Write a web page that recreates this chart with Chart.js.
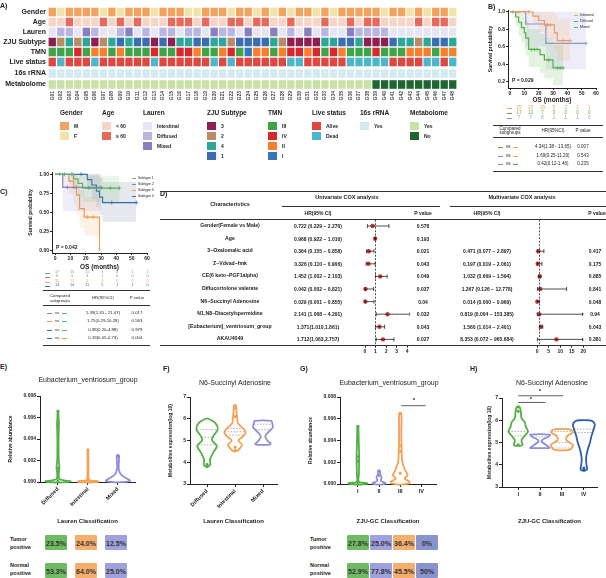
<!DOCTYPE html>
<html>
<head>
<meta charset="utf-8">
<script src="https://cdn.jsdelivr.net/npm/chart.js@4.4.1/dist/chart.umd.min.js"></script>
<style>
body { margin: 0; background: #fff; }
#page { position: relative; width: 606px; height: 578px; overflow: hidden; font-family: Arial, "Liberation Sans", sans-serif; color: #222; }
canvas { position: absolute; }
.t { position: absolute; white-space: nowrap; font-weight: bold; line-height: 1; }
.hl { position: absolute; height: 0; border-top: 1px solid #333; }
.sw { position: absolute; }
</style>
</head>
<body>
<div id="page"></div>
<script>
// ---------- heatmap (panel A) ----------
const samples = ["G01","G02","G03","G04","G05","G06","G07","G08","G09","G10","G11","G12","G13","G14","G15","G16",
  "G17","G18","G19","G20","G21","G22","G23","G24","G25","G26","G27","G28","G29","G30","G31","G32",
  "G33","G34","G35","G36","G37","G38","G39","G40","G41","G42","G43","G44","G45","G46","G47","G48"];
const gender = "M F M M M M F M F M M M F M M M F F M M M F M M F M F M F M M F M F M M M M M F M M F M F M M F".split(" ");
const age = "Y Y O Y Y Y O Y O Y O Y Y Y O O O Y O Y Y O O Y O O Y Y O Y Y Y O Y Y O Y O O Y Y Y Y O Y O O Y".split(" ");
const lauren = "I D D I M D I I D M I D I D D I D D I M D D I M I I M I D I M I D I I M D D D D I I I I I I I I".split(" ");
const zju = "3 2 4 2 4 3 2 4 1 4 1 1 3 1 3 4 4 1 1 4 4 2 1 1 1 1 4 2 3 3 3 3 4 4 1 1 4 3 3 3 1 4 4 2 4 1 1 4".split(" ");
const tmn = "III III III IV III II II III II III III III IV III III IV IV II III III II IV III I II II III II IV IV II IV III IV II III III III IV III III III II II II III II II".split(" ");
const live = "A D A A A D A A A A A A D A A A A A A D A D A A A A A A D D A A A A A D D D D D A A A A D D A D".split(" ");
const rrna = "Y Y Y Y Y Y Y Y Y Y Y Y Y Y Y Y Y Y Y Y Y Y Y Y Y Y Y Y Y Y Y Y Y Y Y Y Y Y Y Y Y Y Y Y Y Y Y Y".split(" ");
const metab = "Y Y Y Y Y Y Y Y Y Y Y Y Y Y Y Y Y Y Y Y Y Y Y Y Y Y Y Y Y Y Y Y Y Y Y Y Y Y N N N N N N N N N N".split(" ");
const rowNames = ["Gender", "Age", "Lauren", "ZJU Subtype", "TMN", "Live status", "16s rRNA", "Metabolome"];

// ---------- Kaplan-Meier (panel B, Lauren) ----------
const bIntT = [0, 16, 20, 24, 31, 33, 42];
const bIntS = [1, 0.95, 0.9, 0.85, 0.76, 0.67, 0.67];
const bIntLo = [1, 0.86, 0.77, 0.69, 0.56, 0.44, 0.44];
const bIntHi = [1, 1, 1, 1, 0.98, 0.92, 0.92];
const bIntCT = [6, 10, 13, 26, 28, 37, 42];
const bIntCS = [1, 1, 1, 0.85, 0.85, 0.67, 0.67];
const bDifT = [0, 4, 6, 8, 10, 11, 13, 21, 24, 30, 37];
const bDifS = [1, 0.94, 0.88, 0.82, 0.76, 0.70, 0.57, 0.51, 0.45, 0.36, 0.36];
const bDifLo = [1, 0.83, 0.72, 0.65, 0.57, 0.5, 0.37, 0.3, 0.24, 0.16, 0.16];
const bDifHi = [1, 1, 1, 0.98, 0.95, 0.9, 0.8, 0.75, 0.7, 0.62, 0.62];
const bDifCT = [15, 17, 19, 27, 33, 35, 37];
const bDifCS = [0.57, 0.57, 0.57, 0.45, 0.36, 0.36, 0.36];
const bMixT = [0, 11, 25, 53];
const bMixS = [1, 0.86, 0.64, 0.64];
const bMixLo = [1, 0.6, 0.34, 0.34];
const bMixHi = [1, 1, 1, 1];
const bMixCT = [2, 53];
const bMixCS = [1, 0.64];
const bRisk = [[25, 23, 19, 5, 2, 1, 1], [17, 13, 7, 3, 0, 0, 0], [7, 7, 6, 1, 1, 1, 0]];
const bHR = [["4.34(1.38 - 13.65)", "0.007"], ["1.69(0.25-11.29)", "0.543"], ["0.42(0.12-1.46)", "0.235"]];

// ---------- Kaplan-Meier (panel C, ZJU subtype) ----------
const c1T = [0, 12, 15, 18, 42], c1S = [1, 0.94, 0.88, 0.82, 0.82], c1Lo = [1, 0.83, 0.72, 0.64, 0.64], c1Hi = [1, 1, 1, 0.98, 0.98];
const c1CT = [3, 22, 30, 36, 42], c1CS = [1, 0.82, 0.82, 0.82, 0.82];
const c2T = [0, 5, 30], c2S = [1, 0.83, 0.83], c2Lo = [1, 0.52, 0.52], c2Hi = [1, 1, 1];
const c2CT = [8, 14, 30], c2CS = [0.83, 0.83, 0.83];
const c3T = [0, 9, 12, 14, 16, 19, 29], c3S = [1, 0.91, 0.82, 0.73, 0.55, 0.44, 0];
const c3Lo = [1, 0.74, 0.6, 0.48, 0.3, 0.2, 0], c3Hi = [1, 1, 1, 0.95, 0.8, 0.7, 0];
const c3CT = [21, 25], c3CS = [0.44, 0.44];
const c4T = [0, 21, 24, 27, 29, 31, 53], c4S = [1, 0.93, 0.86, 0.78, 0.70, 0.63, 0.63];
const c4Lo = [1, 0.8, 0.68, 0.57, 0.47, 0.38, 0.38], c4Hi = [1, 1, 1, 1, 0.95, 0.9, 0.9];
const c4CT = [6, 11, 17, 37, 53], c4CS = [1, 1, 1, 0.63, 0.63];
const cRisk = [[17, 15, 11, 3, 2, 1, 1], [6, 5, 4, 1, 0, 0, 0], [11, 11, 5, 0, 0, 0, 0], [14, 14, 11, 5, 1, 1, 0]];
const cHR = [["5.39(1.35 - 21.47)", "0.017"], ["1.75(0.29-10.28)", "0.563"], ["0.98(0.20-4.88)", "0.979"], ["0.19(0.05-0.73)", "0.004"]];

// ---------- Cox forest (panel D) ----------
const dNames = ["Gender(Female vs Male)", "Age", "3\u2212Oxalomalic acid", "Z\u2212Vdvad\u2212fmk", "CE(6 keto\u2212PGF1alpha)",
  "Diflucortolone valerate", "N6\u2212Succinyl Adenosine", "N1,N8\u2212Diacetylspermidine", "[Eubacterium]_ventriosum_group", "AKAU4049"];
const uniHR = [0.722, 0.968, 0.364, 0.326, 1.452, 0.042, 0.029, 2.141, 1.371, 1.712];
const uniLo = [0.229, 0.922, 0.155, 0.110, 1.002, 0.002, 0.001, 1.068, 1.010, 1.063];
const uniHi = [2.276, 1.016, 0.858, 0.966, 2.103, 0.821, 0.855, 4.291, 1.861, 2.757];
const uniCI = ["0.722 (0.229 \u2212 2.276)", "0.968 (0.922 \u2212 1.016)", "0.364 (0.155 \u2212 0.858)", "0.326 (0.110 \u2212 0.966)",
  "1.452 (1.002 \u2212 2.103)", "0.042 (0.002 \u2212 0.821)", "0.029 (0.001 \u2212 0.855)", "2.141 (1.068 \u2212 4.291)",
  "1.371(1.010,1.861)", "1.712(1.063,2.757)"];
const uniP = ["0.578", "0.193", "0.021", "0.043", "0.049", "0.037", "0.04", "0.032", "0.043", "0.027"];
const mulHR = [null, null, 0.471, 0.197, 1.032, 1.267, 0.014, 0.819, 1.560, 8.353];
const mulLo = [null, null, 0.077, 0.019, 0.669, 0.126, 0.000, 0.004, 1.014, 0.072];
const mulHi = [null, null, 2.897, 2.061, 1.594, 12.778, 0.969, 153.385, 2.401, 965.684];
const mulCI = ["", "", "0.471 (0.077 \u2212 2.897)", "0.197 (0.019 \u2212 2.061)", "1.032 (0.669 \u2212 1.594)",
  "1.267 (0.126 \u2212 12.778)", "0.014 (0.000 \u2212 0.969)", "0.819 (0.004 \u2212 153.385)", "1.560 (1.014 \u2212 2.401)",
  "8.353 (0.072 \u2212 965.684)"];
const mulP = ["", "", "0.417", "0.175", "0.885", "0.841", "0.048", "0.94", "0.043", "0.381"];

// ---------- violins (panels E-H) ----------
const laurenCats = ["Diffused", "Intestinal", "Mixed"];
const zjuCats = ["I", "II", "III", "IV"];
const eDifY = [-0.00005, 0.00002, 0.00008, 0.00015, 0.0003, 0.001, 0.0013, 0.002, 0.004, 0.0054, 0.006, 0.0066];
const eDifW = [0.05, 0.38, 0.42, 0.2, 0.04, 0.03, 0.05, 0.025, 0.02, 0.03, 0.02, 0.01];
const eIntY = [-0.00005, 0.00002, 0.00008, 0.00015, 0.0005, 0.002, 0.003];
const eIntW = [0.05, 0.34, 0.32, 0.05, 0.02, 0.015, 0.01];
const eMixY = [-0.00003, 0.0001, 0.0004, 0.0007, 0.0012, 0.0018, 0.0024, 0.0025];
const eMixW = [0.05, 0.4, 0.25, 0.1, 0.03, 0.03, 0.04, 0.02];
const fDifY = [3.8, 3.9, 4.1, 4.4, 4.75, 5.0, 5.2, 5.5, 5.8, 6.0];
const fDifW = [0.05, 0.12, 0.1, 0.2, 0.35, 0.18, 0.22, 0.38, 0.3, 0.05];
const fIntY = [4.5, 4.6, 4.8, 5.0, 5.2, 5.4, 5.6, 5.8, 6.0, 6.2, 6.6];
const fIntW = [0.05, 0.15, 0.25, 0.12, 0.3, 0.38, 0.25, 0.1, 0.08, 0.06, 0.03];
const fMixY = [4.8, 4.85, 5.0, 5.2, 5.4, 5.6, 5.8, 5.9];
const fMixW = [0.2, 0.28, 0.15, 0.08, 0.2, 0.35, 0.33, 0.3];
const gIY = [-0.00005, 0.00003, 0.0001, 0.0002, 0.001, 0.0025, 0.004, 0.0053];
const gIW = [0.1, 0.45, 0.4, 0.05, 0.05, 0.06, 0.04, 0.02];
const gIIY = [-0.00005, 0.00003, 0.0001, 0.0003, 0.0006, 0.0009, 0.0012];
const gIIW = [0.1, 0.3, 0.3, 0.08, 0.12, 0.05, 0.05];
const gIIIY = [-0.00005, 0.00005, 0.0002, 0.0005, 0.0008, 0.0012, 0.002, 0.003, 0.0045, 0.006, 0.0065];
const gIIIW = [0.1, 0.4, 0.45, 0.2, 0.35, 0.25, 0.1, 0.07, 0.05, 0.06, 0.04];
const hIY = [4.85, 4.9, 5.1, 5.3, 5.5, 5.7, 5.9, 6.1, 6.4, 6.6];
const hIW = [0.1, 0.2, 0.15, 0.3, 0.45, 0.35, 0.3, 0.15, 0.12, 0.06];
const hIIY = [4.75, 4.8, 5.0, 5.1, 5.25, 5.35];
const hIIW = [0.45, 0.4, 0.12, 0.08, 0.35, 0.45];
const hIIIY = [4.65, 4.7, 4.9, 5.1, 5.3, 5.45, 5.55, 5.6];
const hIIIW = [0.15, 0.4, 0.5, 0.2, 0.25, 0.5, 0.45, 0.3];
const hIVY = [3.75, 3.8, 4.0, 4.3, 4.7, 5.0, 5.3, 5.6, 5.8, 5.95, 6.0];
const hIVW = [0.1, 0.15, 0.12, 0.1, 0.18, 0.28, 0.35, 0.45, 0.5, 0.4, 0.2];
const eTumor = ["23.5%", "24.0%", "12.5%"], eNormal = ["53.3%", "64.0%", "25.0%"];
const gTumor = ["27.8%", "25.0%", "36.4%", "0%"], gNormal = ["52.9%", "77.8%", "45.5%", "50%"];

// ---------- colours ----------
const GREEN = "#55AF47", ORANGE = "#F5A053", PURPLE = "#8E8FD8", BLUE = "#2E5EA8";
const heatColors = [
  { M: "#F2A45E", F: "#F3E3AA" },
  { Y: "#F8D4C6", O: "#E8685A" },
  { I: "#E7E5F3", D: "#B8B5E0", M: "#8A7DC0" },
  { "3": "#8E1F50", "2": "#B98A64", "4": "#2BA89B", "1": "#3B6DB3" },
  { III: "#3FA34A", IV: "#D7282E", II: "#F57F2A", I: "#3577B8" },
  { A: "#E2473F", D: "#4CB6CC" },
  { Y: "#D3EAF1" },
  { Y: "#C9E1A7", N: "#1E6631" }
];

Chart.defaults.font.family = "Arial, 'Liberation Sans', sans-serif";
Chart.defaults.font.weight = "bold";
Chart.defaults.font.size = 5;
Chart.defaults.color = "#222";
Chart.defaults.animation = false;
Chart.defaults.responsive = false;
Chart.defaults.plugins.legend.display = false;
Chart.defaults.plugins.tooltip.enabled = false;

const page = document.getElementById("page");
function txt(x, y, s, size, opt = {}) {
  const d = document.createElement("div");
  d.className = "t";
  d.textContent = s;
  d.style.left = x + "px";
  d.style.top = y + "px";
  d.style.fontSize = size + "px";
  const tx = opt.align === "center" ? "-50%" : opt.align === "right" ? "-100%" : "0";
  d.style.transform = "translate(" + tx + ",-50%)";
  if (opt.color) d.style.color = opt.color;
  if (opt.weight) d.style.fontWeight = opt.weight;
  page.appendChild(d);
  return d;
}
function hline(x1, x2, y, w = 1, color = "#333") {
  const d = document.createElement("div");
  d.className = "hl";
  d.style.left = x1 + "px";
  d.style.width = (x2 - x1) + "px";
  d.style.top = y + "px";
  d.style.borderTopWidth = w + "px";
  d.style.borderTopColor = color;
  page.appendChild(d);
}
function rect(x, y, w, h, color) {
  const d = document.createElement("div");
  d.className = "sw";
  Object.assign(d.style, { left: x + "px", top: y + "px", width: w + "px", height: h + "px", background: color });
  page.appendChild(d);
  return d;
}
function makeCanvas(x, y, w, h) {
  const c = document.createElement("canvas");
  c.width = w; c.height = h;
  Object.assign(c.style, { left: x + "px", top: y + "px", width: w + "px", height: h + "px" });
  page.appendChild(c);
  return c;
}
const fixW = w => s => { s.width = w; };
const fixH = h => s => { s.height = h; };
const setTicks = vals => s => { s.ticks = vals.map(v => ({ value: v })); };

// ---------- A: heatmap ----------
const heatRows = [gender, age, lauren, zju, tmn, live, rrna, metab];
const rowPos = [0, 1, 2, 3, 4, 5, 6.15, 7.25];
new Chart(makeCanvas(0, 0, 470, 104), {
  type: "bar",
  data: {
    labels: samples,
    datasets: heatRows.map((codes, r) => ({
      data: codes.map(() => [rowPos[r] - 0.43, rowPos[r] + 0.43]),
      backgroundColor: codes.map(c => heatColors[r][c]),
      grouped: false, barPercentage: 0.86, categoryPercentage: 1, borderWidth: 0
    }))
  },
  options: {
    layout: { padding: { top: 7, right: 13, left: 0, bottom: 0 } },
    scales: {
      x: { grid: { display: false, drawTicks: false }, border: { display: false },
        ticks: { font: { size: 5 }, minRotation: 90, maxRotation: 90, autoSkip: false, padding: 2, color: "#444" },
        afterFit: fixH(15) },
      y: { reverse: true, min: -0.5, max: 7.7, grid: { display: false, drawTicks: false }, border: { display: false },
        afterBuildTicks: setTicks(rowPos),
        ticks: { font: { size: 7 }, padding: 2, callback: (v, i) => rowNames[i] },
        afterFit: fixW(48) }
    }
  }
});
txt(0, 5, "A)", 7);

// heatmap legend
const legendBlocks = [
  { title: "Gender", x: 60, items: [["M", "M"], ["F", "F"]], row: 0 },
  { title: "Age", x: 102, items: [["Y", "< 60"], ["O", "\u2265 60"]], row: 1 },
  { title: "Lauren", x: 143, items: [["I", "Intestinal"], ["D", "Diffused"], ["M", "Mixed"]], row: 2 },
  { title: "ZJU Subtype", x: 207, items: [["3", "3"], ["2", "2"], ["4", "4"], ["1", "1"]], row: 3 },
  { title: "TMN", x: 268, items: [["III", "III"], ["IV", "IV"], ["II", "II"], ["I", "I"]], row: 4 },
  { title: "Live status", x: 312, items: [["A", "Alive"], ["D", "Dead"]], row: 5 },
  { title: "16s rRNA", x: 360, items: [["Y", "Yes"]], row: 6 },
  { title: "Metabolome", x: 410, items: [["Y", "Yes"], ["N", "No"]], row: 7 }
];
legendBlocks.forEach(b => {
  txt(b.x, 113, b.title, 6.5);
  b.items.forEach((it, k) => {
    rect(b.x, 122 + k * 10, 9, 8, heatColors[b.row][it[0]]);
    txt(b.x + 14, 126 + k * 10, it[1], 5);
  });
});

// ---------- KM helper ----------
function kmSets(groups) {
  const sets = [];
  groups.forEach(g => {
    sets.push({ data: g.t.map((x, i) => ({ x, y: g.hi[i] })), stepped: true, borderWidth: 0, pointRadius: 0, fill: "+1", backgroundColor: g.band });
    sets.push({ data: g.t.map((x, i) => ({ x, y: g.lo[i] })), stepped: true, borderWidth: 0, pointRadius: 0, fill: false });
  });
  groups.forEach(g => {
    sets.push({ data: g.t.map((x, i) => ({ x, y: g.s[i] })), stepped: true, borderColor: g.color, borderWidth: 1.2, pointRadius: 0, fill: false });
    sets.push({ data: g.ct.map((x, i) => ({ x, y: g.cs[i] })), showLine: false, pointStyle: "cross", pointRadius: 2, borderColor: g.color, pointBorderWidth: 0.8 });
  });
  return sets;
}
function kmOptions(pad, yW, xH, xmin, ymin, ymax, yTicks, yFmt, titleSize) {
  return {
    layout: { padding: pad },
    scales: {
      x: { type: "linear", min: xmin, max: 60, afterBuildTicks: setTicks([0, 10, 20, 30, 40, 50, 60]),
        grid: { drawOnChartArea: false, tickLength: 2, color: "#222" }, border: { color: "#222", width: 1 },
        ticks: { font: { size: 5 }, padding: 1 },
        title: { display: true, text: "OS (months)", font: { size: titleSize }, padding: 0 },
        afterFit: fixH(xH) },
      y: { min: ymin, max: ymax, afterBuildTicks: setTicks(yTicks),
        grid: { drawOnChartArea: false, tickLength: 2, color: "#222" }, border: { color: "#222", width: 1 },
        ticks: { font: { size: 5 }, padding: 1, callback: v => v.toFixed(yFmt) },
        title: { display: true, text: "Survival probability", font: { size: 5 }, padding: 0 },
        afterFit: fixW(yW) }
    }
  };
}

// ---------- B ----------
const bGroups = [
  { color: ORANGE, band: "rgba(245,160,83,0.16)", t: bIntT, s: bIntS, lo: bIntLo, hi: bIntHi, ct: bIntCT, cs: bIntCS },
  { color: GREEN, band: "rgba(85,175,71,0.16)", t: bDifT, s: bDifS, lo: bDifLo, hi: bDifHi, ct: bDifCT, cs: bDifCS },
  { color: PURPLE, band: "rgba(142,143,216,0.16)", t: bMixT, s: bMixS, lo: bMixLo, hi: bMixHi, ct: bMixCT, cs: bMixCS }
];
new Chart(makeCanvas(488, 2, 118, 102), {
  type: "line",
  data: { datasets: kmSets(bGroups) },
  options: kmOptions({ top: 8, right: 10, left: 0, bottom: 0 }, 20, 16, -1.4, 0.13, 1.02, [0.2, 0.4, 0.6, 0.8, 1.0], 1, 6.5)
});
txt(488, 6, "B)", 7);
txt(512, 80, "P = 0.029", 5);
["Intestinal", "Diffused", "Mixed"].forEach((n, k) => {
  rect(574, 15 + k * 6, 4, 0.8, bGroups[k].color);
  txt(580, 15.5 + k * 6, n, 3.5, { weight: "normal" });
});
bRisk.forEach((row, k) => {
  const y = 108 + k * 5;
  rect(507, y, 5, 0.8, bGroups[k].color);
  row.forEach((n, j) => txt(519 + j * 11.7, y, String(n), 4.5, { align: "center", color: bGroups[k].color, weight: "normal" }));
});
hline(493, 603, 125, 1);
txt(510, 128.5, "Compared", 4.5, { align: "center", weight: "normal" });
txt(510, 133, "subgroups", 4.5, { align: "center", weight: "normal" });
txt(553, 131, "HR(95%CI)", 4.5, { align: "center", weight: "normal" });
txt(583, 131, "P value", 4.5, { align: "center", weight: "normal" });
hline(493, 603, 137, 0.7);
const bPairs = [[1, 0], [2, 0], [2, 1]];
bHR.forEach((r, k) => {
  const y = 147 + k * 8.5;
  rect(498, y, 5, 0.8, bGroups[bPairs[k][0]].color);
  txt(506, y, "vs", 4.5, { weight: "normal" });
  rect(513, y, 5, 0.8, bGroups[bPairs[k][1]].color);
  txt(553, y, r[0], 4.5, { align: "center", weight: "normal" });
  txt(583, y, r[1], 4.5, { align: "center", weight: "normal" });
});
hline(493, 603, 171, 1);

// ---------- C ----------
const C1 = "#5CB85C", C2 = "#8E7CC3", C3 = "#F39C4F", C4 = "#2F6DB5";
const cGroups = [
  { color: C1, band: "rgba(92,184,92,0.14)", t: c1T, s: c1S, lo: c1Lo, hi: c1Hi, ct: c1CT, cs: c1CS },
  { color: C2, band: "rgba(142,124,195,0.14)", t: c2T, s: c2S, lo: c2Lo, hi: c2Hi, ct: c2CT, cs: c2CS },
  { color: C3, band: "rgba(243,156,79,0.14)", t: c3T, s: c3S, lo: c3Lo, hi: c3Hi, ct: c3CT, cs: c3CS },
  { color: C4, band: "rgba(70,90,130,0.14)", t: c4T, s: c4S, lo: c4Lo, hi: c4Hi, ct: c4CT, cs: c4CS }
];
new Chart(makeCanvas(28, 166, 132, 105), {
  type: "line",
  data: { datasets: kmSets(cGroups) },
  options: kmOptions({ top: 6, right: 13, left: 0, bottom: 0 }, 24, 18, -2, -0.03, 1.03, [0, 0.25, 0.5, 0.75, 1.0], 2, 6.5)
});
txt(0, 191, "C)", 7);
txt(56, 247, "P = 0.042", 5);
["Subtype 1", "Subtype 2", "Subtype 3", "Subtype 4"].forEach((n, k) => {
  rect(132, 178 + k * 6, 4, 0.8, cGroups[k].color);
  txt(138, 178.5 + k * 6, n, 3.5, { weight: "normal" });
});
cRisk.forEach((row, k) => {
  const y = 273 + k * 4.4;
  rect(45, y, 5, 0.8, cGroups[k].color);
  row.forEach((n, j) => txt(57 + j * 15.1, y, String(n), 3.8, { align: "center", color: cGroups[k].color, weight: "normal" }));
});
hline(43, 150, 290, 1);
txt(60, 296, "Compared", 4.3, { align: "center", weight: "normal" });
txt(60, 300.5, "subgroups", 4.3, { align: "center", weight: "normal" });
txt(103, 298, "HR(95%CI)", 4.3, { align: "center", weight: "normal" });
txt(137, 298, "P value", 4.3, { align: "center", weight: "normal" });
hline(43, 150, 305, 0.7);
const cPairs = [[1, 0], [2, 0], [3, 0], [3, 2]];
cHR.forEach((r, k) => {
  const y = 313 + k * 8.4;
  rect(47, y, 5, 0.8, cGroups[cPairs[k][0]].color);
  txt(55, y, "vs", 4.3, { weight: "normal" });
  rect(62, y, 5, 0.8, cGroups[cPairs[k][1]].color);
  txt(103, y, r[0], 4.3, { align: "center", weight: "normal" });
  txt(137, y, r[1], 4.3, { align: "center", weight: "normal" });
});
hline(43, 150, 345, 1);

// ---------- D: forest table ----------
function forest(x, w, xmin, xmax, ticks, hr, lo, hi, padL) {
  const sets = [{ data: [{ x: 1, y: -0.5 }, { x: 1, y: 9.5 }], showLine: true, borderColor: "#222", borderWidth: 0.8, borderDash: [2, 1.5], pointRadius: 0 }];
  hr.forEach((h, i) => {
    if (h === null) return;
    sets.push({ data: [{ x: lo[i], y: i }, { x: hi[i], y: i }], showLine: true, borderColor: "#222", borderWidth: 0.8,
      pointStyle: "line", pointRotation: 90, pointRadius: 2, pointBorderColor: "#222", pointBorderWidth: 0.8 });
  });
  sets.push({ data: hi.map((v, i) => (v !== null && v > xmax ? { x: xmax, y: i } : null)).filter(Boolean), showLine: false,
    pointStyle: "triangle", pointRotation: 90, pointRadius: 2, backgroundColor: "#222", borderWidth: 0 });
  sets.push({ data: hr.map((h, i) => (h === null ? null : { x: h, y: i })).filter(Boolean), showLine: false,
    pointRadius: 2.2, backgroundColor: "#D7362E", borderWidth: 0 });
  new Chart(makeCanvas(x, 214, w, 146), {
    type: "scatter",
    data: { datasets: sets },
    options: {
      layout: { padding: { top: 5.7, left: padL, right: 4, bottom: 0 } },
      scales: {
        x: { min: xmin, max: xmax, afterBuildTicks: setTicks(ticks),
          grid: { drawOnChartArea: false, tickLength: 2, color: "#222" }, border: { display: false },
          ticks: { font: { size: 5 }, padding: 1 }, afterFit: fixH(14.3) },
        y: { display: false, reverse: true, min: -0.5, max: 9.5 }
      }
    }
  });
}
forest(355, 60, -0.3, 4.3, [0, 1, 2, 3, 4], uniHR, uniLo, uniHi, 6.85);
forest(528, 60, -1.5, 20, [0, 5, 10, 15, 20], mulHR, mulLo, mulHi, 5.8);

txt(160, 193, "D)", 7);
hline(160, 606, 191, 1.2);
txt(230, 205, "Characteristics", 5.5, { align: "center" });
txt(347, 198, "Univariate COX analysis", 5.5, { align: "center" });
txt(522, 198, "Multivariate COX analysis", 5.5, { align: "center" });
hline(282, 440, 206, 0.8);
hline(450, 606, 206, 0.8);
txt(318, 213, "HR(95% CI)", 5, { align: "center" });
txt(423, 213, "P value", 5, { align: "center" });
txt(487, 213, "HR(95% CI)", 5, { align: "center" });
txt(597, 213, "P value", 5, { align: "center" });
hline(160, 606, 219, 0.8);
dNames.forEach((n, i) => {
  const y = 226 + i * 12.6;
  txt(230, y, n, 5.2, { align: "center" });
  txt(318, y, uniCI[i], 5, { align: "center" });
  txt(423, y, uniP[i], 5, { align: "center" });
  txt(487, y, mulCI[i], 5, { align: "center" });
  txt(595, y, mulP[i], 5, { align: "center" });
});
hline(160, 606, 345, 1.2);

// ---------- violin helper ----------
function violinChart(box, cfg) {
  const sets = [];
  cfg.groups.forEach((g, k) => {
    const c = k + 1;
    if (!g.y) return;
    const right = g.y.map((y, i) => ({ x: c + g.w[i], y }));
    const left = g.y.map((y, i) => ({ x: c - g.w[i], y })).reverse();
    sets.push({ data: right.concat(left, [right[0]]), showLine: true, borderColor: g.color, borderWidth: 1.8,
      pointRadius: 0, tension: 0.3, clip: 4 });
    (g.q || []).forEach(q => sets.push({ data: [{ x: c - q[1], y: q[0] }, { x: c + q[1], y: q[0] }], showLine: true,
      borderColor: "#8a8a8a", borderWidth: 0.7, borderDash: [1.5, 1.5], pointRadius: 0 }));
    sets.push({ data: (g.dots || []).map(y => ({ x: c, y })), showLine: false, pointRadius: 1.6,
      backgroundColor: g.color, borderWidth: 0, clip: 4 });
  });
  (cfg.sig || []).forEach(s => sets.push({ data: [{ x: s[0], y: s[2] }, { x: s[1], y: s[2] }], showLine: true,
    borderColor: "#333", borderWidth: 0.8, pointRadius: 0, clip: 12 }));
  new Chart(makeCanvas(box[0], box[1], box[2], box[3]), {
    type: "scatter",
    data: { datasets: sets },
    options: {
      layout: { padding: cfg.pad },
      scales: {
        x: { min: cfg.xmin, max: cfg.xmax, afterBuildTicks: setTicks(cfg.cats.map((_, i) => i + 1)),
          grid: { drawOnChartArea: false, tickLength: 3, color: "#222" }, border: { color: "#222", width: 1 },
          ticks: { font: { size: 5.5 }, padding: 1, minRotation: cfg.rot, maxRotation: cfg.rot, callback: (v, i) => cfg.cats[i] },
          title: { display: true, text: cfg.xTitle, font: { size: 6 }, padding: 0 },
          afterFit: fixH(cfg.xH) },
        y: { min: cfg.ymin, max: cfg.ymax, ticks: { stepSize: cfg.step, font: { size: 5 }, padding: 1,
            callback: v => v.toFixed(cfg.dec) },
          grid: { drawOnChartArea: false, tickLength: 3, color: "#222" }, border: { color: "#222", width: 1 },
          title: { display: true, text: cfg.yTitle, font: { size: 5 }, padding: 0 },
          afterFit: fixW(cfg.yW) }
      }
    }
  });
}

// E
violinChart([8, 390, 132, 135], {
  pad: { top: 6, right: 5, left: 0, bottom: 0 }, yW: 32, xH: 43, xmin: 0.4, xmax: 3.57, rot: 45,
  cats: laurenCats, xTitle: "Lauren Classification", yTitle: "Relative abundance", ymin: 0, ymax: 0.008, step: 0.002, dec: 3,
  groups: [
    { y: eDifY, w: eDifW, color: GREEN, dots: [0.0066, 0.0054, 0.0013, 0.001, 0.0001] },
    { y: eIntY, w: eIntW, color: ORANGE, dots: [0.003, 0.0001] },
    { y: eMixY, w: eMixW, color: PURPLE, dots: [0.0024] }
  ]
});
// F
violinChart([168, 390, 114, 135], {
  pad: { top: 7, right: 5, left: 0, bottom: 0 }, yW: 22, xH: 41, xmin: 0.39, xmax: 3.5, rot: 45,
  cats: laurenCats, xTitle: "Lauren Classification", yTitle: "Metabolites expression(log 10)", ymin: 3, ymax: 7, step: 1, dec: 0,
  groups: [
    { y: fDifY, w: fDifW, color: GREEN, q: [[5.5, 0.37], [5.15, 0.2], [4.8, 0.33]], dots: [3.8, 3.9] },
    { y: fIntY, w: fIntW, color: ORANGE, q: [[5.55, 0.28], [5.4, 0.37], [5.25, 0.31]], dots: [6.6, 6.5, 6.1, 4.7, 4.55] },
    { y: fMixY, w: fMixW, color: PURPLE, q: [[5.75, 0.33], [5.5, 0.28]] }
  ]
});
// G
violinChart([308, 390, 132, 135], {
  pad: { top: 7, right: 3, left: 0, bottom: 0 }, yW: 32, xH: 41, xmin: 0.156, xmax: 4.69, rot: 0,
  cats: zjuCats, xTitle: "ZJU-GC Classification", yTitle: "Relative abundance", ymin: 0, ymax: 0.008, step: 0.002, dec: 3,
  groups: [
    { y: gIY, w: gIW, color: GREEN, dots: [0.0053, 0.0025, 0.0021, 0.0001] },
    { y: gIIY, w: gIIW, color: PURPLE, dots: [0.0012, 0.0008] },
    { y: gIIIY, w: gIIIW, color: ORANGE, dots: [0.0065, 0.0035, 0.003, 0.001] },
    { color: BLUE }
  ],
  sig: [[3.05, 4.2, 0.0072]]
});
// H
violinChart([487, 390, 119, 135], {
  pad: { top: 8, right: 9, left: 0, bottom: 0 }, yW: 15, xH: 38, xmin: 0.26, xmax: 4.6, rot: 0,
  cats: zjuCats, xTitle: "ZJU-GC Classification", yTitle: "Metabolites expression(log 10)", ymin: 3, ymax: 7, step: 1, dec: 0,
  groups: [
    { y: hIY, w: hIW, color: GREEN, q: [[5.5, 0.44], [5.3, 0.3]], dots: [6.6, 6.4, 4.9] },
    { y: hIIY, w: hIIW, color: PURPLE, q: [[5.25, 0.35], [5.0, 0.12]] },
    { y: hIIIY, w: hIIIW, color: ORANGE, q: [[5.5, 0.48], [5.0, 0.3], [4.75, 0.42]] },
    { y: hIVY, w: hIVW, color: BLUE, q: [[5.6, 0.45], [5.45, 0.4]], dots: [3.75, 3.85] }
  ],
  sig: [[1, 2.25, 6.8], [1, 3.05, 7.1]]
});
txt(414, 400, "*", 6, { align: "center" });
txt(531, 399, "*", 6, { align: "center" });
txt(540, 391, "*", 6, { align: "center" });

txt(0, 366, "E)", 7);
txt(163, 368, "F)", 7);
txt(300, 368, "G)", 7);
txt(470, 368, "H)", 7);
txt(88, 379, "Eubacterium_ventriosum_group", 7, { align: "center", weight: "normal" });
txt(235, 382, "N6-Succinyl Adenosine", 7, { align: "center", weight: "normal" });
txt(389, 382, "Eubacterium_ventriosum_group", 7, { align: "center", weight: "normal" });
txt(552, 382, "N6-Succinyl Adenosine", 7, { align: "center", weight: "normal" });

// positive-rate tables
const eBox = [GREEN, ORANGE, PURPLE], gBox = [GREEN, PURPLE, ORANGE, "#7480C4"];
function rateTable(x0, lx, colors, tumor, normal, bw, gap) {
  txt(lx, 540, "Tumor", 5.5);
  txt(lx, 548, "positive", 5.5);
  txt(lx, 566, "Normal", 5.5);
  txt(lx, 574, "positive", 5.5);
  [[tumor, 535], [normal, 563]].forEach(([vals, y]) => {
    vals.forEach((v, k) => {
      const bx = x0 + k * (bw + gap);
      const b = rect(bx, y, bw, 15, colors[k]);
      b.style.opacity = "0.85";
      b.style.borderRadius = "1px";
      txt(bx + bw / 2, y + 7.5, v, 7, { align: "center", color: "#333" });
    });
  });
}
rateTable(45, 10, eBox, eTumor, eNormal, 22, 8);
rateTable(347, 310, gBox, gTumor, gNormal, 22, 1);
</script>
</body>
</html>
